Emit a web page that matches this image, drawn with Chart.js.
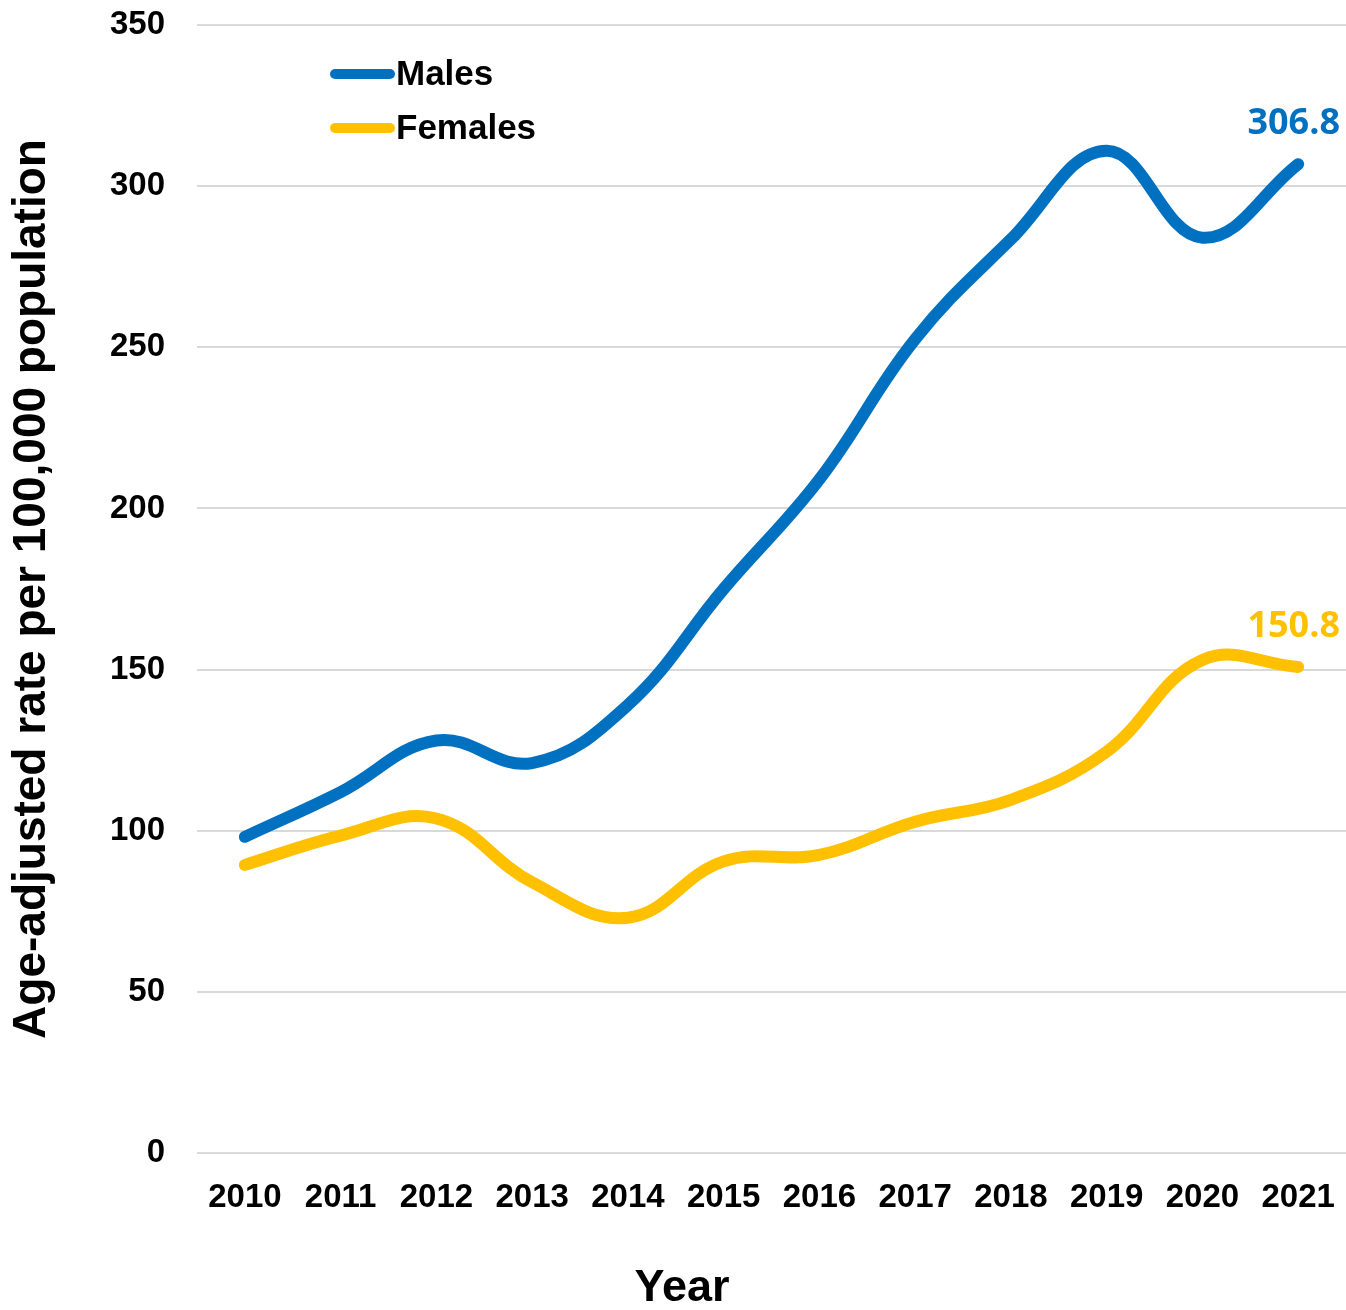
<!DOCTYPE html>
<html>
<head>
<meta charset="utf-8">
<script src="https://cdn.jsdelivr.net/npm/chart.js@4.4.1/dist/chart.umd.min.js"></script>
<style>
  html, body { margin: 0; padding: 0; background: #fff; }
  #wrap { width: 1346px; height: 1310px; }
</style>
</head>
<body>
<div id="wrap"><canvas id="myChart" width="1346" height="1310"></canvas></div>
<script>
// data
var years = ['2010', '2011', '2012', '2013', '2014', '2015', '2016', '2017', '2018', '2019', '2020', '2021'];
var males = [98.1, 112, 128, 121, 139, 175, 209, 252.5, 283.5, 311, 284, 306.8];
var females = [89.4, 98.5, 103.8, 84, 73, 90.5, 92.5, 102.8, 109.6, 124.5, 153, 150.8];
var yTicks = [0, 50, 100, 150, 200, 250, 300, 350];

var BLUE = '#0070C0';
var GOLD = '#FFC000';
var tickFont = { family: '"Liberation Sans", Arial, sans-serif', size: 33, weight: 'bold' };

// legend drawn inside the plot, Excel style
var insideLegend = {
    id: 'insideLegend',
    afterDraw: function(chart) {
        var ctx = chart.ctx;
        var rows = [74, 128];
        ctx.save();
        chart.data.datasets.forEach(function(ds, i) {
            ctx.strokeStyle = ds.borderColor;
            ctx.lineWidth = 10;
            ctx.lineCap = 'round';
            ctx.beginPath();
            ctx.moveTo(335, rows[i]);
            ctx.lineTo(390, rows[i]);
            ctx.stroke();
            ctx.fillStyle = '#000';
            ctx.font = 'bold 35px "Liberation Sans", Arial, sans-serif';
            ctx.textBaseline = 'middle';
            ctx.textAlign = 'left';
            ctx.fillText(ds.label, 396, rows[i] + 1);
        });
        ctx.restore();
    }
};

// value labels on the last point + x-axis title
var extras = {
    id: 'extras',
    afterDatasetsDraw: function(chart) {
        var ctx = chart.ctx;
        ctx.save();
        chart.data.datasets.forEach(function(ds, i) {
            var meta = chart.getDatasetMeta(i);
            var last = meta.data[meta.data.length - 1];
            ctx.fillStyle = ds.borderColor;
            ctx.font = 'bold 36px "Open Sans", "Noto Sans", sans-serif';
            ctx.textAlign = 'right';
            ctx.textBaseline = 'middle';
            ctx.fillText(ds.data[ds.data.length - 1].toFixed(1), 1340, last.y - 40);
        });
        ctx.fillStyle = '#000';
        ctx.font = 'bold 45px "Liberation Sans", Arial, sans-serif';
        ctx.textAlign = 'center';
        ctx.textBaseline = 'middle';
        ctx.fillText('Year', 682, 1289);
        ctx.restore();
    }
};

var ctx = document.getElementById('myChart').getContext('2d');
var myChart = new Chart(ctx, {
    type: 'line',
    data: {
        labels: years,
        datasets: [{
            label: 'Males',
            data: males,
            borderColor: BLUE,
            backgroundColor: BLUE,
            borderWidth: 12,
            borderCapStyle: 'round',
            tension: 0.4,
            pointRadius: 0
        }, {
            label: 'Females',
            data: females,
            borderColor: GOLD,
            backgroundColor: GOLD,
            borderWidth: 12,
            borderCapStyle: 'round',
            tension: 0.4,
            pointRadius: 0
        }]
    },
    options: {
        responsive: false,
        animation: false,
        layout: { padding: { top: 25, right: 0, left: 0, bottom: 0 } },
        plugins: {
            legend: { display: false },
            tooltip: { enabled: false }
        },
        scales: {
            x: {
                offset: true,
                grid: { display: false, drawTicks: true, tickLength: 25 },
                border: { display: false },
                ticks: { font: tickFont, color: '#000', padding: 0, maxRotation: 0 },
                afterFit: function(axis) { axis.height = 157; }
            },
            y: {
                min: 0,
                max: 350,
                afterBuildTicks: function(axis) {
                    axis.ticks = yTicks.map(function(v) { return { value: v }; });
                },
                grid: { color: '#d9d9d9', lineWidth: 2, drawTicks: true, tickLength: 32, tickColor: 'rgba(0,0,0,0)' },
                border: { display: false },
                ticks: { font: tickFont, color: '#000', padding: 0 },
                title: {
                    display: true,
                    text: 'Age-adjusted rate per 100,000 population',
                    color: '#000',
                    font: { family: '"Liberation Sans", Arial, sans-serif', size: 46, weight: 'bold' },
                    padding: { top: 5 }
                },
                afterFit: function(axis) { axis.width = 197; }
            }
        }
    },
    plugins: [insideLegend, extras]
});
</script>
</body>
</html>
